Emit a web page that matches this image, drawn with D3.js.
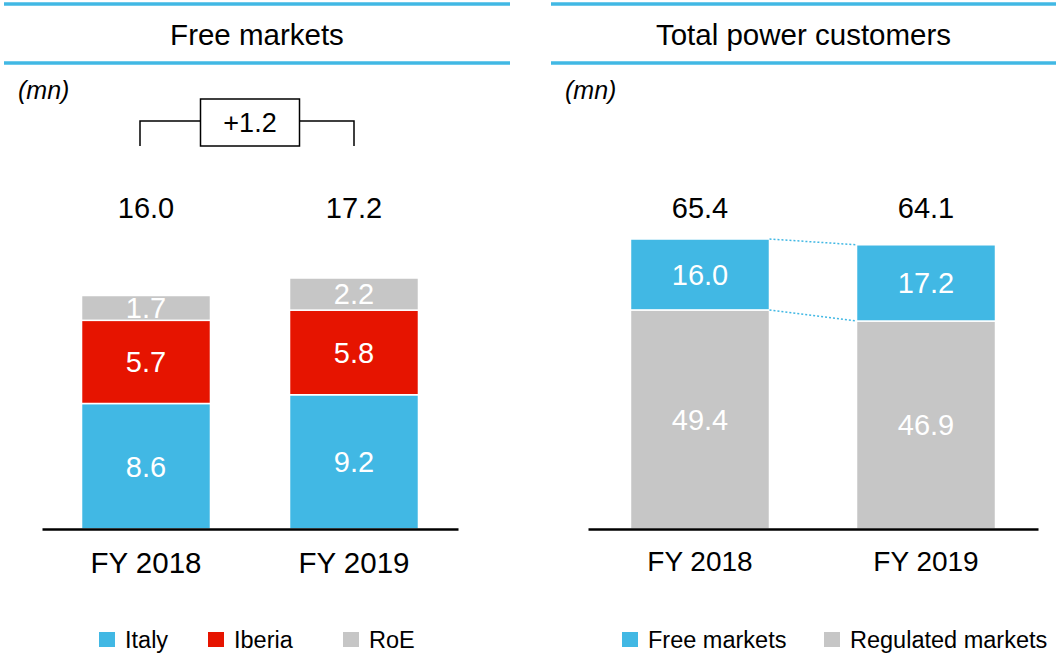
<!DOCTYPE html>
<html>
<head>
<meta charset="utf-8">
<script src="https://cdn.jsdelivr.net/npm/d3@7"></script>
<style>
  body { margin: 0; background: #fff; }
  text { font-family: "Liberation Sans", Arial, sans-serif; }
</style>
</head>
<body>
<div id="chart"></div>
<script>
// data
var years = ["FY 2018", "FY 2019"]
var italy = [8.6, 9.2]
var iberia = [5.7, 5.8]
var roe = [1.7, 2.2]
var freeMarkets = [16.0, 17.2]
var regulatedMarkets = [49.4, 46.9]

var blue = "#41b8e4"
    red = "#e61400"
    grey = "#c6c6c6"

var fmt = d3.format(".1f")

var svg = d3.select("#chart")
  .append("svg")
    .attr("width", 1056)
    .attr("height", 660)

// panel header: two blue rules with a title between them
function header(x0, x1, title) {
  svg.append("line")
    .attr("x1", x0).attr("x2", x1).attr("y1", 4).attr("y2", 4)
    .attr("stroke", blue).attr("stroke-width", 3.5)
  svg.append("line")
    .attr("x1", x0).attr("x2", x1).attr("y1", 63).attr("y2", 63)
    .attr("stroke", blue).attr("stroke-width", 3.5)
  svg.append("text")
    .attr("x", (x0 + x1) / 2).attr("y", 45)
    .attr("text-anchor", "middle")
    .style("font-size", "29.5px")
    .text(title)
  svg.append("text")
    .attr("x", x0 + 14).attr("y", 99)
    .style("font-size", "25px").style("font-style", "italic")
    .text("(mn)")
}

// stacked bars, one panel
function panel(opt) {
  var rows = years.map(function(y, i) {
    var r = { year: y }
    opt.keys.forEach(function(k, j) { r[k] = opt.series[j][i] })
    return r
  })
  var stacked = d3.stack().keys(opt.keys)(rows)
  var totals = rows.map(function(r) { return d3.sum(opt.keys, function(k) { return r[k] }) })

  var x = d3.scaleBand()
    .domain(years)
    .range([opt.x0, opt.x1])
    .paddingInner(opt.padIn)
    .paddingOuter(opt.padOut)
  var y = d3.scaleLinear()
    .domain([0, d3.max(totals)])
    .range([529, opt.top])

  var g = svg.append("g")
  var layer = g.selectAll("g.layer")
    .data(stacked)
    .enter().append("g")
      .attr("fill", function(d, i) { return opt.colors[i] })

  layer.selectAll("rect")
    .data(function(d) { return d })
    .enter().append("rect")
      .attr("x", function(d) { return x(d.data.year) })
      .attr("width", x.bandwidth())
      .attr("y", function(d) { return y(d[1]) })
      .attr("height", function(d) { return y(d[0]) - y(d[1]) })
      .attr("stroke", "#fff")
      .attr("stroke-width", 1.5)

  layer.selectAll("text")
    .data(function(d) { return d })
    .enter().append("text")
      .attr("x", function(d) { return x(d.data.year) + x.bandwidth() / 2 })
      .attr("y", function(d) { return (y(d[0]) + y(d[1])) / 2 })
      .attr("dy", "0.36em")
      .attr("text-anchor", "middle")
      .attr("fill", "#fff")
      .style("font-size", "29px")
      .text(function(d) { return fmt(d[1] - d[0]) })

  // totals above
  g.selectAll("text.total")
    .data(totals)
    .enter().append("text")
      .attr("class", "total")
      .attr("x", function(d, i) { return x(years[i]) + x.bandwidth() / 2 })
      .attr("y", 218)
      .attr("text-anchor", "middle")
      .style("font-size", "29px")
      .text(function(d) { return fmt(d) })

  // axis with baseline
  var axis = g.append("g")
    .attr("transform", "translate(0,529)")
    .call(d3.axisBottom(x).tickSize(0).tickPadding(0).tickSizeOuter(0))
  axis.select(".domain").attr("stroke", "#000").attr("stroke-width", 2.5)
  axis.selectAll("text")
    .attr("y", opt.labelY - 529)
    .attr("dy", 0)
    .attr("fill", "#000")
    .style("font-family", '"Liberation Sans", Arial, sans-serif')
    .style("font-size", opt.labelSize)

  // legend
  opt.keys.forEach(function(k, i) {
    var lx = opt.legendX[i]
    svg.append("rect")
      .attr("x", lx).attr("y", 632).attr("width", 16).attr("height", 15)
      .attr("fill", opt.colors[i])
    svg.append("text")
      .attr("x", lx + 26).attr("y", 648)
      .style("font-size", "23.5px")
      .text(opt.names[i])
  })

  return { x: x, y: y, stacked: stacked, totals: totals }
}

header(4, 510, "Free markets")
header(551, 1056, "Total power customers")

var left = panel({
  keys: ["italy", "iberia", "roe"],
  names: ["Italy", "Iberia", "RoE"],
  series: [italy, iberia, roe],
  colors: [blue, red, grey],
  x0: 42, x1: 458, padIn: 0.38, padOut: 0.19,
  top: 278, labelY: 573, labelSize: "29.5px",
  legendX: [99, 208, 343]
})

var right = panel({
  keys: ["regulated", "free"],
  names: ["Regulated markets", "Free markets"],
  series: [regulatedMarkets, freeMarkets],
  colors: [grey, blue],
  x0: 588, x1: 1038, padIn: 0.385, padOut: 0.188,
  top: 239, labelY: 571, labelSize: "28px",
  legendX: [824, 622]
})

// delta bracket between the two free-market totals
var bx = years.map(function(yr) { return left.x(yr) + left.x.bandwidth() / 2 })
var delta = d3.format("+.1f")(left.totals[1] - left.totals[0])
var mid = (bx[0] + bx[1]) / 2
var boxW = 99, boxH = 47, lineY = 121
svg.append("path")
  .attr("d", "M" + (bx[0] - 6) + ",146V" + lineY + "H" + (mid - boxW / 2) +
             "M" + (mid + boxW / 2) + "," + lineY + "H" + bx[1] + "V146")
  .attr("fill", "none").attr("stroke", "#000").attr("stroke-width", 1.5)
svg.append("rect")
  .attr("x", mid - boxW / 2).attr("y", 99).attr("width", boxW).attr("height", boxH)
  .attr("fill", "#fff").attr("stroke", "#000").attr("stroke-width", 1.5)
svg.append("text")
  .attr("x", mid).attr("y", 132)
  .attr("text-anchor", "middle")
  .style("font-size", "27px")
  .text(delta)

// dotted connectors between the right-hand bars
right.stacked.forEach(function(s) {
  var a = s[0], b = s[1]
  svg.append("line")
    .attr("x1", right.x(years[0]) + right.x.bandwidth())
    .attr("y1", right.y(a[1]))
    .attr("x2", right.x(years[1]))
    .attr("y2", right.y(b[1]))
    .attr("stroke", blue)
    .attr("stroke-width", 1.5)
    .attr("stroke-dasharray", "2,2")
})
</script>
</body>
</html>
